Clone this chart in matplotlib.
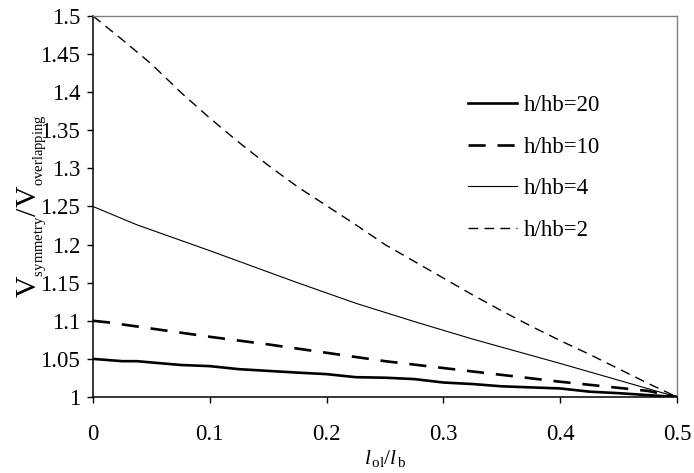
import matplotlib
matplotlib.use("Agg")
import matplotlib.pyplot as plt
from matplotlib.ticker import FuncFormatter

plt.rcParams['font.family'] = ['Liberation Serif', 'DejaVu Serif']
plt.rcParams['mathtext.fontset'] = 'custom'
plt.rcParams['mathtext.rm'] = 'Liberation Serif'
plt.rcParams['mathtext.it'] = 'Liberation Serif:italic'

# ratio curves for each h/hb
x_20 = [0, 0.025, 0.0375, 0.075, 0.1, 0.125, 0.175, 0.2, 0.225, 0.25, 0.275, 0.3, 0.325, 0.35, 0.4, 0.425, 0.45, 0.5]
y_20 = [1.050, 1.047, 1.047, 1.042, 1.0405, 1.0365, 1.032, 1.030, 1.026, 1.0253, 1.0235, 1.019, 1.017, 1.014, 1.0112, 1.007, 1.005, 1.0]

x_10 = [0, 0.0125, 0.04, 0.1, 0.15, 0.2, 0.25, 0.3, 0.35, 0.375, 0.4, 0.45, 0.475, 0.5]
y_10 = [1.100, 1.098, 1.092, 1.079, 1.069, 1.058, 1.047, 1.038, 1.029, 1.0245, 1.020, 1.012, 1.008, 1.0]

x_4 = [0, 0.0375, 0.1, 0.15, 0.175, 0.225, 0.275, 0.325, 0.3625, 0.4, 0.45, 0.5]
y_4 = [1.25, 1.226, 1.192, 1.164, 1.150, 1.123, 1.099, 1.076, 1.060, 1.044, 1.022, 1.0]

x_2 = [0, 0.025, 0.05, 0.075, 0.1, 0.125, 0.15, 0.175, 0.2, 0.225, 0.25, 0.275, 0.3, 0.325, 0.35, 0.375, 0.4, 0.425, 0.45, 0.475, 0.5]
y_2 = [1.5, 1.469, 1.437, 1.400, 1.366, 1.334, 1.304, 1.276, 1.251, 1.226, 1.200, 1.178, 1.156, 1.134, 1.113, 1.093, 1.074, 1.056, 1.037, 1.018, 1.0]

labels = ['h/hb=20', 'h/hb=10', 'h/hb=4', 'h/hb=2']
x_ticks = [0, 0.1, 0.2, 0.3, 0.4, 0.5]
y_ticks = [1, 1.05, 1.1, 1.15, 1.2, 1.25, 1.3, 1.35, 1.4, 1.45, 1.5]

fig = plt.figure(figsize=(6.94, 4.73), dpi=100)
ax = fig.add_axes([0.134, 0.1607, 0.8415, 0.8055])

ax.plot(x_20, y_20, color='black', lw=1.9, label=labels[0])
ax.plot(x_10, y_10, color='black', lw=1.9, dashes=(6.5, 4.5), label=labels[1])
ax.plot(x_4, y_4, color='black', lw=0.8, label=labels[2])
ax.plot(x_2, y_2, color='black', lw=1.0, dashes=(7, 4.5), label=labels[3])

ax.set_xlim(0, 0.5)
ax.set_ylim(1, 1.5)
ax.set_xticks(x_ticks)
ax.set_yticks(y_ticks)
fmt = FuncFormatter(lambda v, p: '%g' % round(v, 3))
ax.xaxis.set_major_formatter(fmt)
ax.yaxis.set_major_formatter(fmt)
ax.tick_params(axis='x', direction='out', length=4.3, width=1, labelsize=16.5, pad=15, top=False)
ax.tick_params(axis='y', direction='out', length=4.3, width=1, labelsize=16.5, pad=5, right=False)

for s in ['top', 'right']:
    ax.spines[s].set_color('#808080')
    ax.spines[s].set_linewidth(1)
for s in ['left', 'bottom']:
    ax.spines[s].set_color('black')
    ax.spines[s].set_linewidth(1.1)

# small subscripts under large V
ax.set_ylabel(r'$\mathrm{V}_{{}_{\mathrm{symmetry}}}/\mathrm{V}_{{}_{\mathrm{overlapping}}}$', fontsize=21.5)
ax.yaxis.set_label_coords(-0.076, 0.5)
ax.set_xlabel(r'$\mathit{l}_{\,\mathrm{ol}}/\mathit{l}_{\,\mathrm{b}}$', fontsize=15.5, labelpad=2)

ax.legend(loc='upper left', bbox_to_anchor=(468 / 694, 1 - 95 / 473), bbox_transform=fig.transFigure,
          frameon=False, fontsize=16.5, handlelength=2.15, handletextpad=0.3, labelspacing=0.9,
          borderpad=0, borderaxespad=0)

plt.savefig('out.png', dpi=100)
